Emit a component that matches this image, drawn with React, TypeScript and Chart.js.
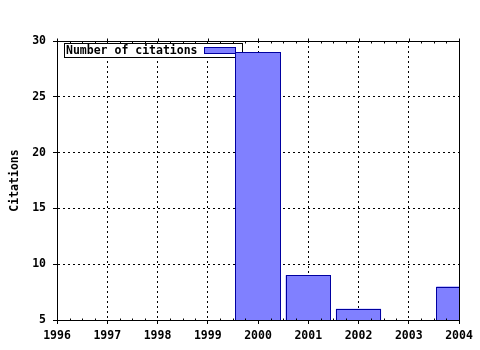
import React, { useEffect, useRef } from "react";
import { Chart, registerables } from "chart.js";

Chart.register(...registerables);

const seriesLabel = "Number of citations";
const years = [2000, 2001, 2002, 2004];
const citations = [29, 9, 6, 8];
const xMin = 1996;
const xMax = 2004;
const yMin = 5;
const yMax = 30;
const yStep = 5;
const yTitle = "Citations";

const FONT = "'DejaVu Sans Mono', monospace";
const BAR_FILL = "#8080ff";
const BAR_BORDER = "#0000a0";

const framePlugin = {
  id: "frame",
  beforeDatasetsDraw(chart: any) {
    const { ctx, chartArea } = chart;
    const ds = chart.data.datasets[0];
    const bx = chartArea.left + 7.5;
    const by = chartArea.top + 2.5;
    const bw = 178;
    const bh = 14;
    ctx.save();
    ctx.fillStyle = "#ffffff";
    ctx.fillRect(bx, by, bw, bh);
    ctx.strokeStyle = "#000000";
    ctx.lineWidth = 1;
    ctx.setLineDash([]);
    ctx.strokeRect(bx, by, bw, bh);
    ctx.font = "bold 11.5px " + FONT;
    ctx.fillStyle = "#000000";
    ctx.textBaseline = "middle";
    ctx.textAlign = "left";
    ctx.fillText(ds.label, bx + 1.5, by + 7.5);
    ctx.fillStyle = BAR_FILL;
    ctx.fillRect(bx + 140, by + 4, 31, 6);
    ctx.strokeStyle = BAR_BORDER;
    ctx.strokeRect(bx + 140, by + 4, 31, 6);
    ctx.restore();
  },
  afterDatasetsDraw(chart: any) {
    const { ctx, chartArea, scales } = chart;
    const xs = scales.x;
    const l = Math.round(chartArea.left) + 0.5;
    const r = Math.round(chartArea.right) + 0.5;
    const t = Math.round(chartArea.top) + 0.5;
    const b = Math.round(chartArea.bottom) + 0.5;
    ctx.save();
    // crisp bar outlines, from the bar elements' own geometry
    ctx.beginPath();
    ctx.rect(chartArea.left, chartArea.top, chartArea.right - chartArea.left + 1, chartArea.bottom - chartArea.top + 1);
    ctx.clip();
    ctx.strokeStyle = BAR_BORDER;
    ctx.lineWidth = 1;
    ctx.setLineDash([]);
    const meta = chart.getDatasetMeta(0);
    meta.data.forEach((el: any) => {
      const p = el.getProps(["x", "y", "base", "width"], true);
      const x0 = Math.round(p.x - p.width / 2) + 0.5;
      const x1 = Math.round(p.x + p.width / 2) - 0.5;
      const y0 = Math.round(p.y) + 0.5;
      const y1 = Math.round(p.base) + 0.5;
      ctx.strokeRect(x0, y0, x1 - x0, y1 - y0);
    });
    ctx.restore();

    ctx.save();
    ctx.strokeStyle = "#000000";
    ctx.lineWidth = 1;
    ctx.setLineDash([]);
    ctx.beginPath();
    ctx.moveTo(l, t);
    ctx.lineTo(r, t);
    ctx.lineTo(r, b);
    ctx.lineTo(l, b);
    ctx.closePath();
    ctx.stroke();
    ctx.beginPath();
    for (let yr = xMin; yr <= xMax; yr++) {
      const px = Math.round(xs.getPixelForValue(yr)) + 0.5;
      ctx.moveTo(px, t);
      ctx.lineTo(px, t - 3);
      if (yr < xMax) {
        for (let q = 1; q < 4; q++) {
          const mx = Math.round(xs.getPixelForValue(yr + q / 4)) + 0.5;
          ctx.moveTo(mx, t);
          ctx.lineTo(mx, t + 2);
          ctx.moveTo(mx, b);
          ctx.lineTo(mx, b - 2);
        }
      }
    }
    ctx.stroke();
    ctx.restore();
  },
};

export default function App() {
  const ref = useRef<HTMLCanvasElement>(null);
  useEffect(() => {
    document.body.style.margin = "0";
    if (!ref.current) return;
    const chart = new Chart(ref.current, {
      type: "bar",
      data: {
        datasets: [
          {
            label: seriesLabel,
            data: years.map((y, i) => ({ x: y, y: citations[i] })),
            backgroundColor: BAR_FILL,
            borderColor: BAR_BORDER,
            borderWidth: 0,
            inflateAmount: 0,
            categoryPercentage: 1,
            barPercentage: 0.9,
          },
        ],
      },
      options: {
        responsive: false,
        animation: false,
        layout: { padding: { left: 0, top: 41, right: 21, bottom: 0 } },
        plugins: { legend: { display: false }, tooltip: { enabled: false } },
        scales: {
          x: {
            type: "linear",
            min: xMin,
            max: xMax,
            offset: false,
            afterFit: (s: any) => {
              s.height = 30;
            },
            ticks: {
              stepSize: 1,
              color: "#000000",
              padding: 5,
              maxRotation: 0,
              autoSkip: false,
              font: { family: FONT, size: 11.5, weight: "bold" },
              callback: (v: any) => String(v),
            },
            grid: {
              offset: false,
              color: "#000000",
              lineWidth: 1,
              tickLength: 4,
              tickBorderDash: [],
            },
            border: { display: true, color: "#000000", dash: [2, 3] },
          },
          y: {
            min: yMin,
            max: yMax,
            afterFit: (s: any) => {
              s.width = 57;
            },
            ticks: {
              stepSize: yStep,
              color: "#000000",
              padding: 7,
              font: { family: FONT, size: 11.5, weight: "bold" },
            },
            grid: {
              color: "#000000",
              lineWidth: 1,
              tickLength: 4,
              tickBorderDash: [],
            },
            border: { display: true, color: "#000000", dash: [2, 3] },
            title: {
              display: true,
              text: yTitle,
              color: "#000000",
              padding: { top: 8, bottom: 0 },
              font: { family: FONT, size: 11.5, weight: "bold" },
            },
          },
        },
      },
      plugins: [framePlugin],
    });
    return () => chart.destroy();
  }, []);
  return (
    <div style={{ width: 480, height: 350, background: "#ffffff" }}>
      <canvas ref={ref} width={480} height={350} style={{ display: "block" }} />
    </div>
  );
}
